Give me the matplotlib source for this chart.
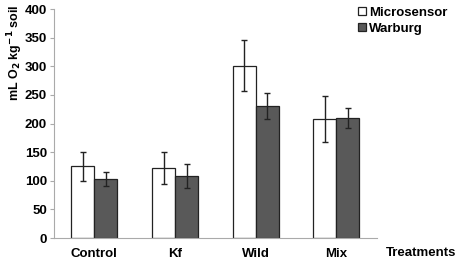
import numpy as np
import matplotlib.pyplot as plt
from matplotlib.patches import Patch

# Data
treatments = ["Control", "Kf", "Wild", "Mix"]
microsensor = [125, 122, 301, 208]
microsensor_err = [25, 28, 44, 40]
warburg = [103, 109, 230, 210]
warburg_err = [12, 21, 23, 17]

plt.rcParams["font.family"] = ["Liberation Sans", "DejaVu Sans"]
plt.rcParams["font.weight"] = "bold"

fig = plt.figure(figsize=(4.59, 2.62), dpi=100)
ax = fig.add_axes([0.1176, 0.0916, 0.7034, 0.874])

x = np.arange(len(treatments))
width = 0.285
err_kw = dict(ecolor="#222222", elinewidth=1.0, capsize=2.5, capthick=1.0)

ax.bar(x - width / 2, microsensor, width, yerr=microsensor_err,
       color="white", edgecolor="#222222", linewidth=0.9,
       error_kw=err_kw, label="Microsensor")
ax.bar(x + width / 2, warburg, width, yerr=warburg_err,
       color="#595959", edgecolor="#222222", linewidth=0.9,
       error_kw=err_kw, label="Warburg")

ax.set_xlim(-0.5, 3.5)
ax.set_ylim(0, 400)
ax.set_yticks(np.arange(0, 401, 50))
ax.set_xticks(x)
ax.set_xticklabels(treatments, fontsize=9.5, fontweight="bold")
for lbl in ax.get_yticklabels():
    lbl.set_fontsize(9.5)
    lbl.set_fontweight("bold")

for side in ["top", "right"]:
    ax.spines[side].set_visible(False)
for side in ["left", "bottom"]:
    ax.spines[side].set_color("#aaaaaa")
ax.tick_params(axis="y", colors="#aaaaaa", labelcolor="black", length=3, pad=2)
ax.tick_params(axis="x", length=0, pad=7)

fig.text(0.012, 0.985, r"mL O$_\mathbf{2}$ kg$^\mathbf{-1}$ soil", rotation=90,
         ha="left", va="top", fontsize=9, fontweight="bold")
fig.text(0.995, 0.035, "Treatments", ha="right", va="center",
         fontsize=9.5, fontweight="bold")

handles = [Patch(facecolor="white", edgecolor="#222222", linewidth=0.9),
           Patch(facecolor="#595959", edgecolor="#222222", linewidth=0.9)]
fig.legend(handles, ["Microsensor", "Warburg"], loc="upper right",
           bbox_to_anchor=(1.0, 1.02), frameon=False,
           prop=dict(size=9.5, weight="bold"),
           handlelength=0.65, handleheight=0.65, handletextpad=0.2,
           labelspacing=0.3)

fig.savefig("out.png", dpi=100)
